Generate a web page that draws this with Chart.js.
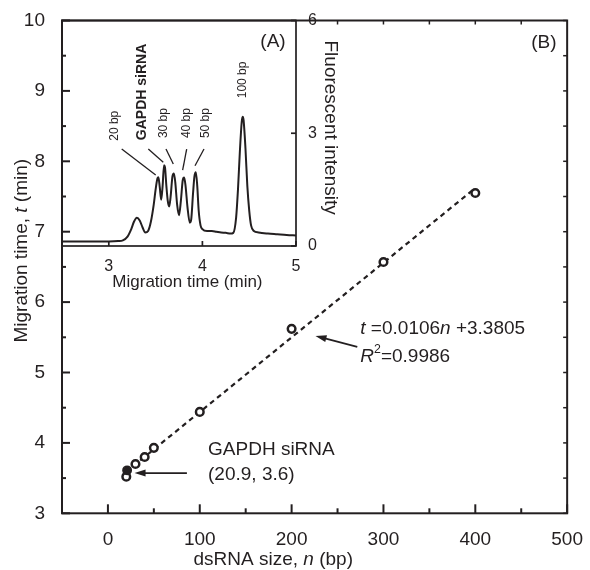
<!DOCTYPE html>
<html>
<head>
<meta charset="utf-8">
<script src="https://cdn.jsdelivr.net/npm/chart.js@4.4.1/dist/chart.umd.min.js"></script>
<style>
  html, body { margin: 0; padding: 0; background: #fff; }
  #wrap { position: relative; width: 590px; height: 570px; }
  #wrap canvas { position: absolute; left: 0; top: 0; }
</style>
</head>
<body>
<div id="wrap">
  <canvas id="mainChart" width="590" height="570"></canvas>
  <canvas id="insetChart" width="590" height="300"></canvas>
</div>
<script>
// (B) migration time against dsRNA size
const ladderSize = [20, 30, 40, 50, 100, 200, 300, 400];
const ladderTime = [3.52, 3.70, 3.80, 3.93, 4.44, 5.62, 6.57, 7.55];
const sirnaSize = [20.9];
const sirnaTime = [3.61];
const fitSize = [20, 400];
const fitTime = [3.59, 7.62];
const sizeTicks = [0, 100, 200, 300, 400, 500];
const timeTicks = [3, 4, 5, 6, 7, 8, 9, 10];

// (A) electropherogram
const traceTime = [2.50, 2.80, 3.00, 3.10, 3.15, 3.20, 3.24, 3.27, 3.30, 3.33, 3.36, 3.39,
  3.42, 3.45, 3.48, 3.50, 3.52, 3.53, 3.545, 3.56, 3.575, 3.59, 3.60, 3.615, 3.63, 3.645,
  3.66, 3.68, 3.695, 3.71, 3.73, 3.75, 3.77, 3.79, 3.805, 3.82, 3.84, 3.865, 3.88, 3.90,
  3.915, 3.93, 3.945, 3.96, 3.98, 4.00, 4.05, 4.10, 4.15, 4.20, 4.25, 4.30, 4.33, 4.36,
  4.38, 4.40, 4.42, 4.43, 4.44, 4.46, 4.48, 4.50, 4.52, 4.55, 4.60, 4.70, 4.80, 4.90, 5.00];
const traceIntensity = [0.12, 0.12, 0.12, 0.13, 0.15, 0.25, 0.45, 0.65, 0.75, 0.68, 0.50, 0.36,
  0.40, 0.65, 1.10, 1.50, 1.80, 1.83, 1.55, 1.23, 1.60, 2.15, 2.10, 1.60, 1.20, 1.05,
  1.30, 1.85, 1.93, 1.70, 1.10, 0.82, 1.20, 1.75, 1.82, 1.60, 1.05, 0.62, 0.70, 1.40,
  1.85, 1.96, 1.60, 0.95, 0.55, 0.45, 0.40, 0.40, 0.38, 0.36, 0.35, 0.33, 0.35, 0.75,
  1.50, 2.50, 3.30, 3.44, 3.35, 2.60, 1.60, 0.95, 0.55, 0.40, 0.36, 0.33, 0.31, 0.29, 0.28];
const insetTimeTicks = [3, 4, 5];
const insetIntensityTicks = [0, 3, 6];
const peakLabels = ['20 bp', 'GAPDH siRNA', '30 bp', '40 bp', '50 bp', '100 bp'];

const INK = '#231f20';
const FAMILY = '"Liberation Sans", Arial, Helvetica, sans-serif';
Chart.defaults.font.family = FAMILY;
Chart.defaults.color = INK;

function font(size, style) {
  const pre = style === 'i' ? 'italic ' : style === 'b' ? 'bold ' : '';
  return pre + size + 'px ' + FAMILY;
}

// text made of runs: [text, style] with style '', 'i', 'b' or 'sup'
function drawRuns(ctx, runs, x, y, size, align) {
  ctx.save();
  ctx.fillStyle = INK;
  ctx.textBaseline = 'middle';
  ctx.textAlign = 'left';
  const parts = runs.map(([text, style]) => {
    const s = style === 'sup' ? size * 0.65 : size;
    ctx.font = font(s, style === 'sup' ? '' : style);
    return { text, style, s, w: ctx.measureText(text).width };
  });
  const total = parts.reduce((a, p) => a + p.w, 0);
  let cx = align === 'center' ? x - total / 2 : x;
  parts.forEach(p => {
    ctx.font = font(p.s, p.style === 'sup' ? '' : p.style);
    ctx.fillText(p.text, cx, p.style === 'sup' ? y - size * 0.38 : y);
    cx += p.w;
  });
  ctx.restore();
}

function drawRotated(ctx, runs, x, y, size, angle) {
  ctx.save();
  ctx.translate(x, y);
  ctx.rotate(angle);
  drawRuns(ctx, runs, 0, 0, size, 'center');
  ctx.restore();
}

function arrow(ctx, x1, y1, x2, y2) {
  const a = Math.atan2(y2 - y1, x2 - x1);
  const hl = 11, hw = 3.5;
  ctx.save();
  ctx.strokeStyle = INK;
  ctx.fillStyle = INK;
  ctx.lineWidth = 1.7;
  ctx.beginPath();
  ctx.moveTo(x1, y1);
  ctx.lineTo(x2 - hl * 0.8 * Math.cos(a), y2 - hl * 0.8 * Math.sin(a));
  ctx.stroke();
  ctx.beginPath();
  ctx.moveTo(x2, y2);
  ctx.lineTo(x2 - hl * Math.cos(a) + hw * Math.sin(a), y2 - hl * Math.sin(a) - hw * Math.cos(a));
  ctx.lineTo(x2 - hl * Math.cos(a) - hw * Math.sin(a), y2 - hl * Math.sin(a) + hw * Math.cos(a));
  ctx.closePath();
  ctx.fill();
  ctx.restore();
}

function tickMarks(ctx, scale, values, len, edge, area) {
  values.forEach(v => {
    const p = scale.getPixelForValue(v);
    ctx.beginPath();
    if (edge === 'bottom') { ctx.moveTo(p, area.bottom); ctx.lineTo(p, area.bottom - len); }
    else if (edge === 'top') { ctx.moveTo(p, area.top); ctx.lineTo(p, area.top + len); }
    else if (edge === 'left') { ctx.moveTo(area.left, p); ctx.lineTo(area.left + len, p); }
    else { ctx.moveTo(area.right, p); ctx.lineTo(area.right - len, p); }
    ctx.stroke();
  });
}

// frame, inward ticks, titles and notes of the main plot
const mainDecor = {
  id: 'mainDecor',
  afterDraw(chart) {
    const ctx = chart.ctx, area = chart.chartArea;
    const xs = chart.scales.x, ys = chart.scales.y;
    const minorX = sizeTicks.slice(1).map(v => v - 50);
    const minorY = timeTicks.slice(1).map(v => v - 0.5);
    ctx.save();
    ctx.strokeStyle = INK;
    ctx.lineWidth = 2;
    ctx.strokeRect(area.left, area.top, area.right - area.left, area.bottom - area.top);
    tickMarks(ctx, xs, sizeTicks, 9, 'bottom', area);
    tickMarks(ctx, xs, minorX, 5, 'bottom', area);
    tickMarks(ctx, ys, timeTicks, 8, 'left', area);
    tickMarks(ctx, ys, minorY, 4, 'left', area);
    ctx.lineWidth = 1.5;
    tickMarks(ctx, xs, [250, 300, 350, 400, 450], 4, 'top', area);
    tickMarks(ctx, ys, minorY.concat(timeTicks), 4, 'right', area);
    ctx.restore();

    // axis titles
    drawRuns(ctx, [['dsRNA size, ', ''], ['n', 'i'], [' (bp)', '']],
      xs.getPixelForValue(180), area.bottom + 46, 19, 'center');
    drawRotated(ctx, [['Migration time, ', ''], ['t', 'i'], [' (min)', '']],
      22, ys.getPixelForValue(6.73), 19, -Math.PI / 2);

    // notes
    drawRuns(ctx, [['(B)', '']], xs.getPixelForValue(474.6), ys.getPixelForValue(9.69), 19, 'center');
    drawRuns(ctx, [['GAPDH siRNA', '']], xs.getPixelForValue(109), ys.getPixelForValue(3.90), 19, 'left');
    drawRuns(ctx, [['(' + sirnaSize[0] + ', 3.6)', '']], xs.getPixelForValue(109), ys.getPixelForValue(3.545), 19, 'left');
    arrow(ctx, xs.getPixelForValue(86), ys.getPixelForValue(3.572), xs.getPixelForValue(29), ys.getPixelForValue(3.572));
    drawRuns(ctx, [['t', 'i'], [' =0.0106', ''], ['n', 'i'], [' +3.3805', '']],
      xs.getPixelForValue(274.8), ys.getPixelForValue(5.618), 19, 'left');
    drawRuns(ctx, [['R', 'i'], ['2', 'sup'], ['=0.9986', '']],
      xs.getPixelForValue(274.8), ys.getPixelForValue(5.22), 19, 'left');
    arrow(ctx, xs.getPixelForValue(271.5), ys.getPixelForValue(5.364), xs.getPixelForValue(226), ys.getPixelForValue(5.52));
  }
};

// frame, ticks, peak labels and titles of the inset
const insetDecor = {
  id: 'insetDecor',
  afterDraw(chart) {
    const ctx = chart.ctx, area = chart.chartArea;
    const xs = chart.scales.x, ys = chart.scales.y;
    ctx.save();
    ctx.strokeStyle = INK;
    ctx.lineWidth = 1.7;
    ctx.strokeRect(area.left, area.top, area.right - area.left, area.bottom - area.top);
    tickMarks(ctx, xs, insetTimeTicks, 5, 'bottom', area);
    tickMarks(ctx, ys, insetIntensityTicks, 5, 'right', area);

    // peak labels with leader lines
    const spots = [[3.059, 3.2], [3.351, 4.1], [3.582, 3.27], [3.832, 3.27], [4.035, 3.27], [4.426, 4.42]];
    peakLabels.forEach((txt, i) => {
      const bold = txt.indexOf('GAPDH') === 0;
      drawRotated(ctx, [[txt, bold ? 'b' : '']], xs.getPixelForValue(spots[i][0]),
        ys.getPixelForValue(spots[i][1]), bold ? 14 : 12, -Math.PI / 2);
    });
    const leaders = [
      [3.138, 2.58, 3.501, 1.889],
      [3.422, 2.58, 3.582, 2.227],
      [3.611, 2.58, 3.689, 2.182],
      [3.832, 2.58, 3.789, 2.022],
      [4.017, 2.58, 3.921, 2.137]
    ];
    ctx.lineWidth = 1.3;
    leaders.forEach(l => {
      ctx.beginPath();
      ctx.moveTo(xs.getPixelForValue(l[0]), ys.getPixelForValue(l[1]));
      ctx.lineTo(xs.getPixelForValue(l[2]), ys.getPixelForValue(l[3]));
      ctx.stroke();
    });
    ctx.restore();

    drawRuns(ctx, [['(A)', '']], xs.getPixelForValue(4.754), ys.getPixelForValue(5.43), 19, 'center');
    drawRuns(ctx, [['Migration time (min)', '']], xs.getPixelForValue(3.84), area.bottom + 36, 17, 'center');
    drawRotated(ctx, [['Fluorescent intensity', '']], area.right + 34, ys.getPixelForValue(3.15), 19, Math.PI / 2);
  }
};

new Chart(document.getElementById('mainChart'), {
  type: 'scatter',
  data: {
    datasets: [
      {
        label: 'GAPDH siRNA',
        data: sirnaSize.map((n, i) => ({ x: n, y: sirnaTime[i] })),
        pointRadius: 4.2,
        pointBackgroundColor: INK,
        pointBorderColor: INK,
        pointBorderWidth: 1.5
      },
      {
        label: 'dsRNA ladder',
        data: ladderSize.map((n, i) => ({ x: n, y: ladderTime[i] })),
        pointRadius: 3.8,
        pointBackgroundColor: '#fff',
        pointBorderColor: INK,
        pointBorderWidth: 2.5
      },
      {
        type: 'line',
        label: 'fit',
        data: fitSize.map((n, i) => ({ x: n, y: fitTime[i] })),
        borderColor: INK,
        borderWidth: 2.2,
        borderDash: [5, 4],
        pointRadius: 0,
        fill: false
      }
    ]
  },
  options: {
    responsive: false,
    animation: false,
    devicePixelRatio: 1,
    layout: { padding: { top: 20.5, right: 17.5, left: 0, bottom: 0 } },
    plugins: { legend: { display: false }, tooltip: { enabled: false } },
    scales: {
      x: {
        type: 'linear', position: 'bottom', min: -50, max: 500,
        grid: { display: false }, border: { display: false },
        afterBuildTicks: s => { s.ticks = sizeTicks.map(v => ({ value: v })); },
        afterFit: s => { s.height = 56.7; },
        ticks: { font: { size: 19 }, color: INK, padding: 7, maxRotation: 0, autoSkip: false }
      },
      y: {
        type: 'linear', position: 'left', min: 3, max: 10,
        grid: { display: false }, border: { display: false },
        afterBuildTicks: s => { s.ticks = timeTicks.map(v => ({ value: v })); },
        afterFit: s => { s.width = 62; },
        ticks: { font: { size: 19 }, color: INK, padding: 9, autoSkip: false }
      }
    }
  },
  plugins: [mainDecor]
});

new Chart(document.getElementById('insetChart'), {
  type: 'line',
  data: {
    datasets: [{
      label: 'electropherogram',
      data: traceTime.map((m, i) => ({ x: m, y: traceIntensity[i] })),
      borderColor: INK,
      borderWidth: 2,
      pointRadius: 0,
      cubicInterpolationMode: 'monotone',
      fill: false
    }]
  },
  options: {
    responsive: false,
    animation: false,
    devicePixelRatio: 1,
    layout: { padding: { top: 20.5, right: 0, left: 62, bottom: 0 } },
    plugins: { legend: { display: false }, tooltip: { enabled: false } },
    scales: {
      x: {
        type: 'linear', position: 'bottom', min: 2.5, max: 5,
        grid: { display: false }, border: { display: false },
        afterBuildTicks: s => { s.ticks = insetTimeTicks.map(v => ({ value: v })); },
        afterFit: s => { s.height = 54; },
        ticks: { font: { size: 16 }, color: INK, padding: 3, maxRotation: 0, autoSkip: false }
      },
      y: {
        type: 'linear', position: 'right', min: 0, max: 6,
        grid: { display: false }, border: { display: false },
        afterBuildTicks: s => { s.ticks = insetIntensityTicks.map(v => ({ value: v })); },
        afterFit: s => { s.width = 294; },
        ticks: { font: { size: 16 }, color: INK, padding: 4, autoSkip: false }
      }
    }
  },
  plugins: [insetDecor]
});
</script>
</body>
</html>
